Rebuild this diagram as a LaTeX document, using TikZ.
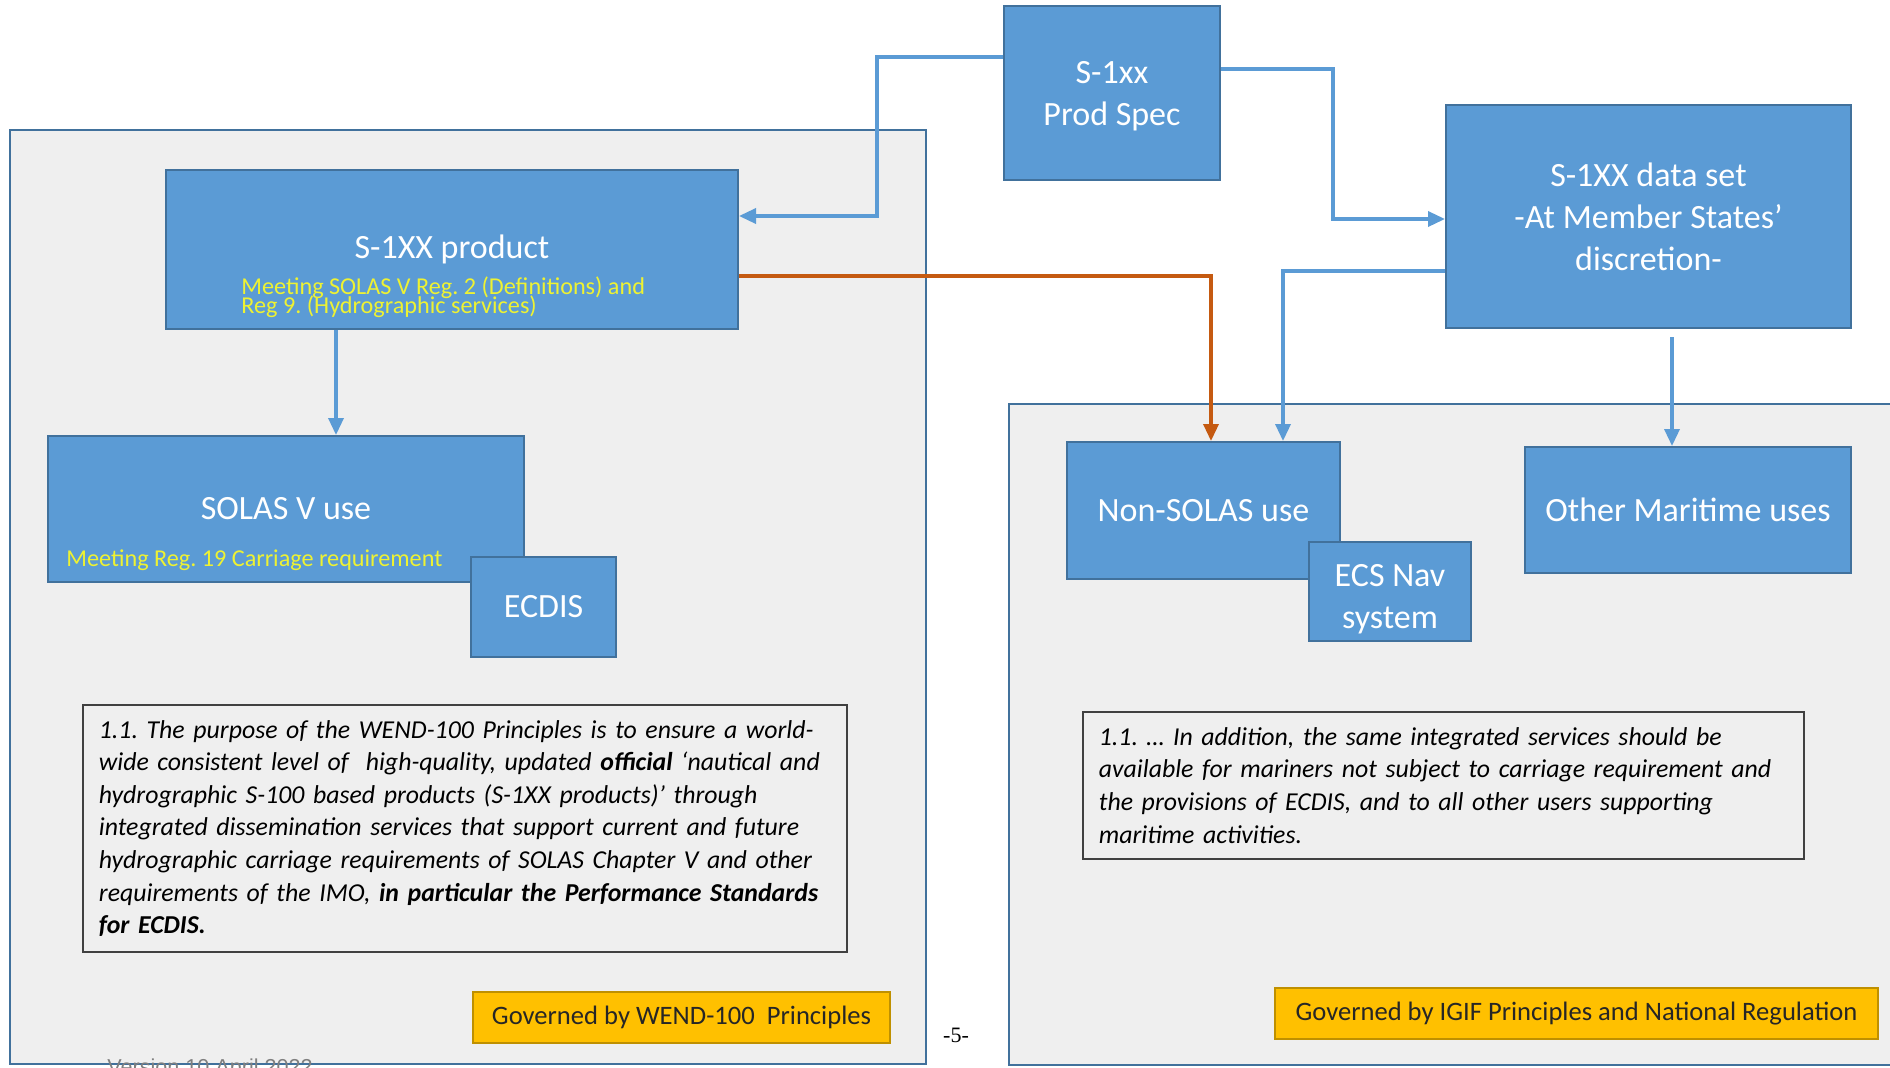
\documentclass[tikz,border=0pt]{standalone}
\usepackage{fontspec}
\setmainfont{Carlito}
\newfontfamily\pagefont{Liberation Serif}
\newfontfamily\verfont{Liberation Sans}
\usetikzlibrary{arrows.meta}
\definecolor{boxblue}{HTML}{5B9BD5}
\definecolor{boxedge}{HTML}{41719C}
\definecolor{panelfill}{HTML}{EFEFEF}
\definecolor{paneledge}{HTML}{41719C}
\definecolor{connblue}{HTML}{5B9BD5}
\definecolor{connorange}{HTML}{C55A11}
\definecolor{subyellow}{HTML}{EEF232}
\definecolor{gold}{HTML}{FFC000}
\definecolor{goldedge}{HTML}{BF9000}
\definecolor{quoteedge}{HTML}{404040}
\definecolor{vergray}{HTML}{7F7F7F}
\newcommand\mytightlines{\lineskiplimit=-20pt\relax\lineskip=0pt\relax}
\frenchspacing
\begin{document}
\begin{tikzpicture}[x=0.5pt,y=-0.5pt,
  panel/.style={draw=paneledge, fill=panelfill, line width=1.3pt},
  bbox/.style={draw=boxedge, fill=boxblue, line width=1pt, text=white,
    font=\fontsize{17}{21}\selectfont, align=center, inner sep=0pt},
  subtext/.style={text=subyellow, font=\fontsize{12.1}{9.6}\selectfont\mytightlines, align=left, inner sep=0pt},
  quote/.style={draw=quoteedge, line width=0.9pt, align=left, inner xsep=8pt, inner ysep=0pt,
    font=\fontsize{12.9}{16.3}\selectfont\itshape, anchor=north west},
  gbox/.style={draw=goldedge, fill=gold, line width=0.8pt, text=black!85,
    font=\fontsize{13.3}{16}\selectfont, inner sep=0pt},
  conn/.style={draw=connblue, line width=1.7pt, -{Triangle[length=8.5pt,width=7.5pt]}},
  oconn/.style={draw=connorange, line width=1.7pt, -{Triangle[length=8.5pt,width=7.5pt]}}
]
\useasboundingbox (0,0) rectangle (1890,1067);
\fill[white] (0,0) rectangle (1890,1067);

% panels
\draw[panel] (10,130) rectangle (926,1064);
\draw[panel] (1009,404) rectangle (1915,1065);

% boxes
\node[bbox, minimum width=108pt, minimum height=87pt] (prod) at (1112,93) {\rule{0pt}{14pt}S-1xx\\Prod Spec};
\node[bbox, minimum width=202.5pt, minimum height=111.5pt] (dataset) at (1648.5,216.5) {S-1XX data set\\-At Member States’\\discretion-};
\node[bbox, minimum width=286pt, minimum height=79.5pt] (product) at (452,249.5) {S-1XX product};
\node[subtext, anchor=north west] (productsub) at (241,276) {Meeting SOLAS V Reg. 2 (Definitions) and\\Reg 9. (Hydrographic services)};
\node[bbox, minimum width=238pt, minimum height=73pt] (solas) at (286,509) {SOLAS V use};
\node[subtext, anchor=base west] (solassub) at (66,566) {Meeting Reg. 19 Carriage requirement};
\node[bbox, minimum width=72.5pt, minimum height=50pt] (ecdis) at (543.5,607) {ECDIS};
\node[bbox, minimum width=136.5pt, minimum height=68.5pt] (nonsolas) at (1203.5,510.5) {Non-SOLAS use};
\node[bbox, minimum width=81pt, minimum height=49.5pt] (ecs) at (1390,591.5) {\rule{0pt}{19pt}ECS Nav\\system};
\node[bbox, minimum width=163pt, minimum height=63pt] (othermar) at (1688,510) {Other Maritime uses};

% quotes
\node[quote, text width=366pt, minimum height=123.5pt] (q1) at (82,704) {\mbox{1.1. The purpose of the WEND-100 Principles is to ensure a world-}\\
\mbox{wide consistent level of\ \ high-quality, updated \textbf{official} ‘nautical and}\\
\mbox{hydrographic S-100 based products (S-1XX products)’ through}\\
\mbox{integrated dissemination services that support current and future}\\
\mbox{hydrographic carriage requirements of SOLAS Chapter V and other}\\
\mbox{requirements of the IMO, \textbf{in particular the Performance Standards}}\\
\mbox{\textbf{for ECDIS.}}};
\node[quote, text width=344.5pt, minimum height=73.5pt] (q2) at (1082,711) {\mbox{1.1. … In addition, the same integrated services should be}\\
\mbox{available for mariners not subject to carriage requirement and}\\
\mbox{the provisions of ECDIS, and to all other users supporting}\\
\mbox{maritime activities.}};

% governance boxes
\node[gbox, minimum width=208.5pt, minimum height=25.5pt] (gov1) at (681.5,1017.5) {Governed by WEND-100\ \ Principles};
\node[gbox, minimum width=301.5pt, minimum height=25.5pt] (gov2) at (1576.5,1013.5) {Governed by IGIF Principles and National Regulation};

% page number and version
\node[font=\pagefont\fontsize{11}{13}\selectfont, inner sep=0pt] (pagenum) at (956,1035) {-5-};
\node[font=\verfont\fontsize{10.8}{13}\selectfont, text=vergray, inner sep=0pt, anchor=base west] (version) at (107,1074) {Version 10 April 2022};

% connectors
\draw[conn] ([yshift=18pt]prod.west) -| ([xshift=69pt,yshift=16.75pt]product.east) -- ([yshift=16.75pt]product.east);
\draw[conn] ([yshift=12pt]prod.east) -| ([xshift=-56pt,yshift=-1.25pt]dataset.west) -- ([yshift=-1.25pt]dataset.west);
\draw[oconn] ([yshift=-13.25pt]product.east) -| ([xshift=3.75pt]nonsolas.north);
\draw[conn] ([yshift=-27.25pt]dataset.west) -| ([xshift=39.75pt]nonsolas.north);
\draw[conn] ([xshift=11.75pt,yshift=-4pt]dataset.south) -- ([xshift=11.75pt]dataset.south |- othermar.north);
\draw[conn] ([xshift=-58pt]product.south) -- ([xshift=-58pt]product.south |- solas.north);
\end{tikzpicture}
\end{document}
